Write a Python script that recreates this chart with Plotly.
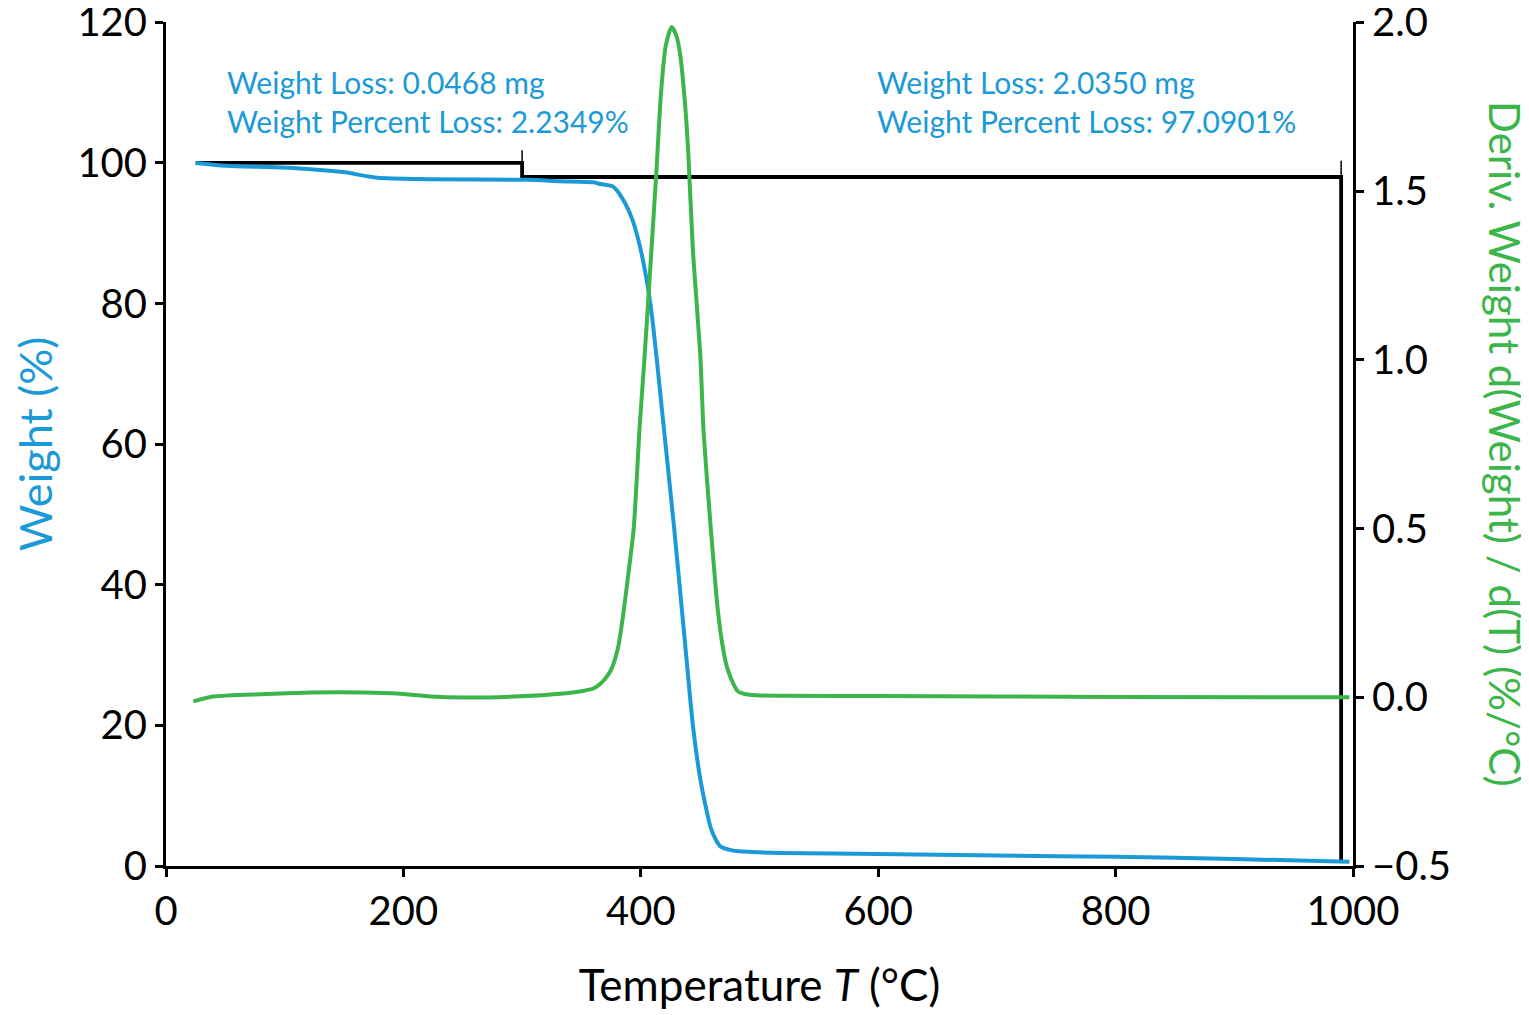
import plotly.graph_objects as go

# Weight curve (TGA)
temp_w = [25, 51, 107, 149, 178, 220, 304, 332, 360, 366, 377, 385, 393, 398, 402, 406,
          410, 414, 418, 428, 436, 444, 450, 455, 459, 463, 467, 475, 486, 500, 518,
          600, 700, 800, 900, 997]
weight = [100.0, 99.6, 99.3, 98.7, 97.9, 97.7, 97.6, 97.4, 97.25, 97.0, 96.6, 94.8, 91.9,
          89.0, 86.0, 82.3, 77.4, 71.2, 64.6, 48.2, 34.0, 19.8, 12.5, 8.2, 5.4, 3.8, 2.8,
          2.3, 2.05, 1.95, 1.85, 1.7, 1.5, 1.3, 1.0, 0.6]

# Derivative curve (DTG)
temp_d = [23, 40, 80, 124, 166, 195, 223, 250, 293, 335, 350, 360, 366, 372, 376, 381,
          385, 389, 394, 399, 403, 407, 413, 417, 421, 426, 430, 433, 437, 440, 444,
          450, 453, 459, 465, 470, 473, 478, 482, 490, 501, 600, 800, 997]
deriv = [-0.012, 0.002, 0.009, 0.014, 0.014, 0.011, 0.002, -0.001, 0.002, 0.011, 0.018,
         0.026, 0.04, 0.064, 0.09, 0.15, 0.24, 0.351, 0.499, 0.8, 1.0, 1.217, 1.55,
         1.79, 1.93, 1.986, 1.96, 1.908, 1.77, 1.613, 1.317, 1.022, 0.78, 0.499, 0.254,
         0.13, 0.085, 0.04, 0.017, 0.008, 0.005, 0.004, 0.001, 0.0]

# Step analysis markers
step_t = [25, 300, 300, 990, 990]
step_w = [100, 100, 98.0, 98.0, 0.6]
tick1_t = [300, 300]
tick1_w = [100, 101.8]
tick2_t = [990, 990]
tick2_w = [98.0, 100.3]

blue = "#1b9ad7"
green = "#3cb54a"
font = "Lato, Open Sans, sans-serif"

fig = go.Figure()
fig.add_trace(go.Scatter(x=step_t, y=step_w, mode="lines",
                         line=dict(color="black", width=3.8), showlegend=False))
fig.add_trace(go.Scatter(x=tick1_t, y=tick1_w, mode="lines",
                         line=dict(color="black", width=1.5), showlegend=False))
fig.add_trace(go.Scatter(x=tick2_t, y=tick2_w, mode="lines",
                         line=dict(color="black", width=1.5), showlegend=False))
fig.add_trace(go.Scatter(x=temp_w, y=weight, mode="lines",
                         line=dict(color=blue, width=4, shape="spline", smoothing=0.6),
                         showlegend=False))
fig.add_trace(go.Scatter(x=temp_d, y=deriv, mode="lines", yaxis="y2",
                         line=dict(color=green, width=4, shape="spline", smoothing=0.6),
                         showlegend=False))

axis_common = dict(showgrid=False, zeroline=False, showline=True, linecolor="black",
                   linewidth=3, ticks="outside", tickcolor="black", tickwidth=3,
                   ticklen=8, ticklabeloverflow="allow",
                   tickfont=dict(size=40, color="black", family=font))

# page body has an 8px margin, so the figure is sized a bit smaller than the window
fig.update_layout(
    width=1521, height=1007,
    margin=dict(l=158, r=176, t=14, b=146),
    plot_bgcolor="white", paper_bgcolor="white",
    font=dict(family=font),
    xaxis=dict(range=[0, 1000], tickvals=[0, 200, 400, 600, 800, 1000],
               title=dict(text="Temperature <i>T</i> (°C)",
                          font=dict(size=44, color="black", family=font), standoff=38),
               **axis_common),
    yaxis=dict(range=[0, 120.05], tickvals=[0, 20, 40, 60, 80, 100, 120],
               automargin=False,
               title=dict(text="Weight (%)", font=dict(size=45, color=blue, family=font),
                          standoff=26),
               **axis_common),
    yaxis2=dict(range=[-0.5, 2.001], tickvals=[-0.5, 0, 0.5, 1.0, 1.5, 2.0],
                automargin=False, tickformat=".1f", overlaying="y", side="right",
                **axis_common),
    annotations=[
        dict(text="Weight Loss: 0.0468 mg<br>Weight Percent Loss: 2.2349%",
             x=50, y=108.7, xref="x", yref="y", xanchor="left", yanchor="middle",
             showarrow=False, align="left",
             font=dict(size=30, color=blue, family=font)),
        dict(text="Weight Loss: 2.0350 mg<br>Weight Percent Loss: 97.0901%",
             x=597, y=108.7, xref="x", yref="y", xanchor="left", yanchor="middle",
             showarrow=False, align="left",
             font=dict(size=30, color=blue, family=font)),
        dict(text="Deriv. Weight d(Weight) / d(T) (%/°C)",
             x=1.0, y=0.5, xref="paper", yref="paper", xshift=152,
             xanchor="center", yanchor="middle", textangle=90, showarrow=False,
             font=dict(size=42, color=green, family=font)),
    ],
)

fig.write_html("out.html")
